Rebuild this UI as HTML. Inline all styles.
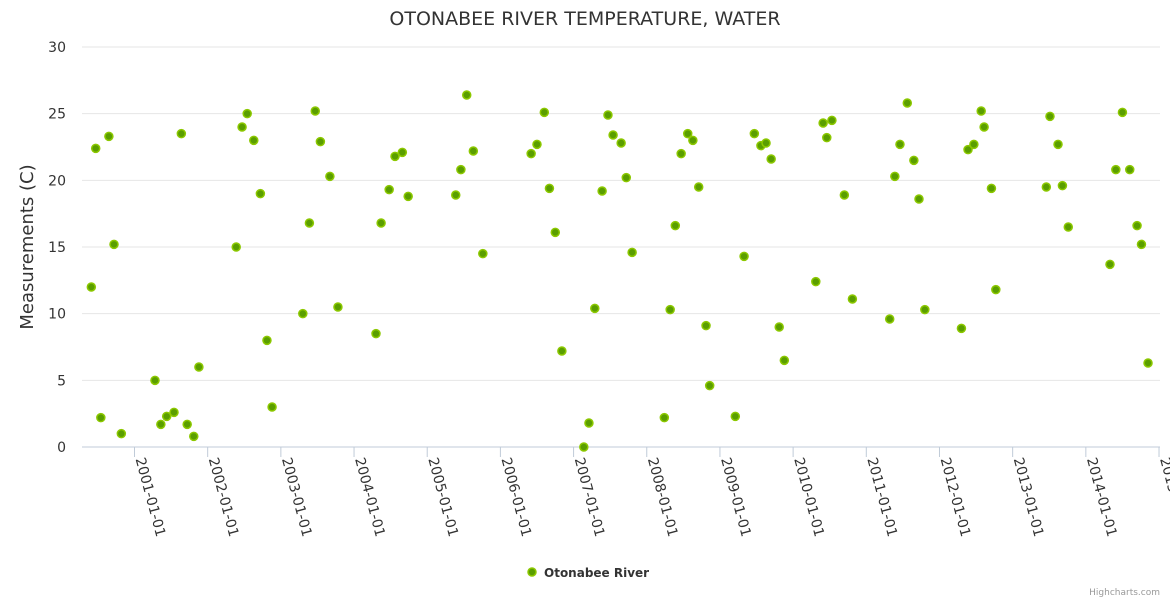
<!DOCTYPE html>
<html><head><meta charset="utf-8"><style>
html,body{margin:0;padding:0;background:#fff;}
svg{display:block;font-family:"DejaVu Sans","Liberation Sans",sans-serif;}
</style></head><body>
<svg id="chart" width="1170" height="600">
<text x="585" y="25" text-anchor="middle" font-size="19" fill="#333">OTONABEE RIVER TEMPERATURE, WATER</text>
<g id="grid"></g>
<g id="yticks"></g>
<g id="xticks"></g>
<text transform="translate(33,247) rotate(-90)" text-anchor="middle" font-size="18" fill="#333">Measurements (C)</text>
<g id="points"></g>
<g>
<circle cx="532" cy="572" r="4" fill="#5a9e00" stroke="#8cc800" stroke-width="1.5"/>
<text x="544" y="577" font-size="12" font-weight="bold" fill="#333">Otonabee River</text>
</g>
<text x="1160" y="595" text-anchor="end" font-size="9" fill="#999">Highcharts.com</text>
</svg>
<script>
const yTicks=[0,5,10,15,20,25,30];
const xTickYears=[2001,2002,2003,2004,2005,2006,2007,2008,2009,2010,2011,2012,2013,2014,2015];
const dates=[2000.41,2000.47,2000.54,2000.65,2000.72,2000.82,2001.28,2001.36,2001.44,2001.54,2001.64,2001.72,2001.81,2001.88,2002.39,2002.47,2002.54,2002.63,2002.72,2002.81,2002.88,2003.30,2003.39,2003.47,2003.54,2003.67,2003.78,2004.30,2004.37,2004.48,2004.56,2004.66,2004.74,2005.39,2005.46,2005.54,2005.63,2005.76,2006.42,2006.50,2006.60,2006.67,2006.75,2006.84,2007.14,2007.21,2007.29,2007.39,2007.47,2007.54,2007.65,2007.72,2007.80,2008.24,2008.32,2008.39,2008.47,2008.56,2008.63,2008.71,2008.81,2008.86,2009.21,2009.33,2009.47,2009.56,2009.63,2009.70,2009.81,2009.88,2010.31,2010.41,2010.46,2010.53,2010.70,2010.81,2011.32,2011.39,2011.46,2011.56,2011.65,2011.72,2011.80,2012.30,2012.39,2012.47,2012.57,2012.61,2012.71,2012.77,2013.46,2013.51,2013.62,2013.68,2013.76,2014.33,2014.41,2014.50,2014.60,2014.70,2014.76,2014.85];
const temps=[12.0,22.4,2.2,23.3,15.2,1.0,5.0,1.7,2.3,2.6,23.5,1.7,0.8,6.0,15.0,24.0,25.0,23.0,19.0,8.0,3.0,10.0,16.8,25.2,22.9,20.3,10.5,8.5,16.8,19.3,21.8,22.1,18.8,18.9,20.8,26.4,22.2,14.5,22.0,22.7,25.1,19.4,16.1,7.2,0.0,1.8,10.4,19.2,24.9,23.4,22.8,20.2,14.6,2.2,10.3,16.6,22.0,23.5,23.0,19.5,9.1,4.6,2.3,14.3,23.5,22.6,22.8,21.6,9.0,6.5,12.4,24.3,23.2,24.5,18.9,11.1,9.6,20.3,22.7,25.8,21.5,18.6,10.3,8.9,22.3,22.7,25.2,24.0,19.4,11.8,19.5,24.8,22.7,19.6,16.5,13.7,20.8,25.1,20.8,16.6,15.2,6.3];
const NS='http://www.w3.org/2000/svg';
const X0=82,X1=1160,Y0=447,Y1=47;
function xs(yr){return 134.5+(yr-2001)*73.18;}
function ys(v){return Y0-(v/30)*(Y0-Y1);}
function mk(tag,attrs,parent){const e=document.createElementNS(NS,tag);for(const k in attrs)e.setAttribute(k,attrs[k]);parent.appendChild(e);return e;}
const grid=document.getElementById('grid'),yt=document.getElementById('yticks'),xt=document.getElementById('xticks'),pts=document.getElementById('points');
yTicks.forEach(v=>{
  const y=ys(v);
  const l=mk('line',{x1:X0,x2:X1,y1:y,y2:y,stroke:v===0?'#c0cbd8':'#e6e6e6','stroke-width':1},grid);
  
  
  const t=mk('text',{x:66,y:y+5,'text-anchor':'end','font-size':14,fill:'#333'},yt);
  t.textContent=v;
  
  
});
xTickYears.forEach(yr=>{
  const x=xs(yr);
  const tk=mk('line',{x1:x,x2:x,y1:Y0,y2:Y0+10,stroke:'#c0cbd8'},xt);
  
  
  const t=mk('text',{transform:'translate('+(x+1)+','+(Y0+12)+') rotate(75)','font-size':14,fill:'#333'},xt);
  t.textContent=yr+'-01-01';
  
  
});
dates.forEach((d,i)=>{
  const c=mk('circle',{cx:xs(d),cy:ys(temps[i]),r:4,fill:'#5a9e00',stroke:'#8cc800','stroke-width':1.5},pts);
  
  
});
</script>
</body></html>
